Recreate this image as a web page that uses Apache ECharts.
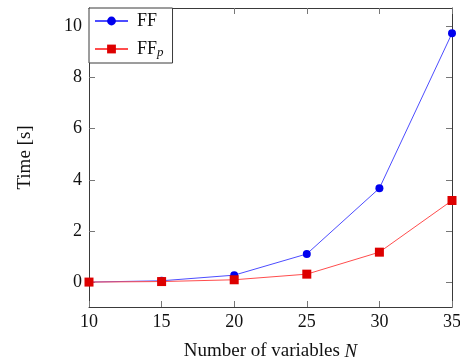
<!DOCTYPE html>
<html><head><meta charset="utf-8">
<script src="https://cdn.jsdelivr.net/npm/echarts@6/dist/echarts.min.js"></script>
<style>html,body{margin:0;padding:0;background:#fff}#c{width:460px;height:358px}</style>
</head><body><div id="c"></div>
<script>
var nVars = [10, 15, 20, 25, 30, 35];
var ffTimes = [0.0, 0.05, 0.27, 1.1, 3.67, 9.73];
var ffpTimes = [0.0, 0.02, 0.09, 0.31, 1.17, 3.19];
var yTicks = [0, 2, 4, 6, 8, 10];
var xTicks = [10, 15, 20, 25, 30, 35];

var FONT = 'Liberation Serif';
var chart = echarts.init(document.getElementById('c'));
function pairs(xs, ys){ return xs.map(function(x,i){return [x, ys[i]];}); }
var axisLine = {show:true, onZero:false, lineStyle:{color:'#3a3a3a', width:1}};
var tickStyle = {show:true, inside:true, length:6, lineStyle:{color:'#777', width:1}};
chart.setOption({
  animation:false,
  backgroundColor:'#fff',
  grid:{left:89, right:8, top:8, bottom:51, containLabel:false, outerBoundsMode:'none'},
  legend:{
    left:89, top:8, orient:'vertical', itemGap:6, itemWidth:33, itemHeight:11,
    padding:[3,9,4,5], borderColor:'#3a3a3a', borderWidth:1, backgroundColor:'#fff',
    textStyle:{fontFamily:FONT, fontSize:18, color:'#111', lineHeight:20,
      rich:{a:{fontFamily:FONT, fontSize:18, color:'#111', lineHeight:20, padding:[0,0,0,4]}, s:{fontFamily:FONT, fontSize:13, fontStyle:'italic', color:'#111', verticalAlign:'bottom', lineHeight:20, padding:[9,0,0,0]}}},
    formatter:function(n){ return n==='FFp' ? '{a|FF}{s|p}' : '{a|FF}'; },
    data:['FF','FFp']
  },
  xAxis:[{
    type:'value', min:10, max:35, interval:5, position:'bottom',
    name:'Number of variables {i|N}', nameLocation:'middle', nameGap:35,
    nameTextStyle:{fontFamily:FONT, fontSize:19, color:'#111', rich:{i:{fontFamily:FONT, fontSize:19, fontStyle:'italic', color:'#111'}}},
    axisLine:axisLine, axisTick:tickStyle, splitLine:{show:false},
    axisLabel:{fontFamily:FONT, fontSize:18, color:'#111', margin:6,
      customValues: xTicks}
  },{
    type:'value', min:10, max:35, interval:5, position:'top',
    axisLine:axisLine, axisTick:tickStyle, splitLine:{show:false}, axisLabel:{show:false}
  }],
  yAxis:[{
    type:'value', min:-0.975, max:10.72, position:'left',
    name:'Time [s]', nameLocation:'middle', nameGap:54,
    nameTextStyle:{fontFamily:FONT, fontSize:19, color:'#111'},
    axisLine:axisLine, splitLine:{show:false},
    axisTick:Object.assign({}, tickStyle, {customValues:yTicks}),
    axisLabel:{fontFamily:FONT, fontSize:18, color:'#111', margin:7, customValues:yTicks}
  },{
    type:'value', min:-0.975, max:10.72, position:'right',
    axisLine:axisLine, splitLine:{show:false},
    axisTick:Object.assign({}, tickStyle, {customValues:yTicks}),
    axisLabel:{show:false}
  }],
  series:[{
    name:'FF', type:'line', data:pairs(nVars, ffTimes),
    symbol:'circle', symbolSize:8, showAllSymbol:true,
    lineStyle:{color:'#4d4dff', width:1}, itemStyle:{color:'#0000ee'}
  },{
    name:'FFp', type:'line', data:pairs(nVars, ffpTimes),
    symbol:'rect', symbolSize:9, showAllSymbol:true,
    lineStyle:{color:'#ff4d4d', width:1}, itemStyle:{color:'#dd0000'}
  }]
});
</script></body></html>
